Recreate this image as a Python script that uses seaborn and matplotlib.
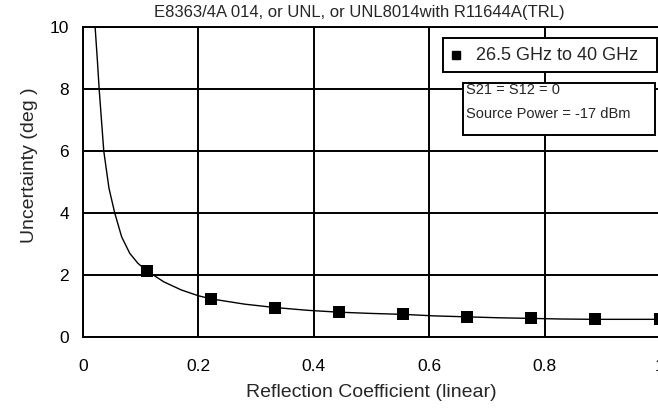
import matplotlib
matplotlib.use('Agg')
import matplotlib.pyplot as plt
import seaborn as sns
import pandas as pd
from matplotlib.patches import Rectangle
from matplotlib.lines import Line2D

# curve
curve_x = [0.021, 0.025, 0.028, 0.032, 0.036, 0.045, 0.055, 0.067, 0.081, 0.095, 0.111,
           0.14, 0.17, 0.2, 0.222, 0.28, 0.333, 0.39, 0.444, 0.5, 0.555, 0.61, 0.666,
           0.72, 0.777, 0.83, 0.888, 0.95, 1.0]
curve_y = [10.0, 8.9, 8.0, 7.0, 6.0, 4.8, 4.0, 3.23, 2.7, 2.38, 2.13,
           1.78, 1.52, 1.33, 1.23, 1.06, 0.95, 0.86, 0.8, 0.76, 0.73, 0.68, 0.65,
           0.62, 0.6, 0.58, 0.57, 0.57, 0.57]

# square markers, 26.5 GHz to 40 GHz
marker_x = [0.111, 0.222, 0.333, 0.444, 0.555, 0.666, 0.777, 0.888, 1.0]
marker_y = [2.13, 1.23, 0.95, 0.80, 0.73, 0.65, 0.60, 0.57, 0.57]

x_ticks = [0, 0.2, 0.4, 0.6, 0.8, 1]
x_ticklabels = ['0', '0.2', '0.4', '0.6', '0.8', '1']
y_ticks = [0, 2, 4, 6, 8, 10]

title = 'E8363/4A 014, or UNL, or UNL8014with R11644A(TRL)'
legend_label = '26.5 GHz to 40 GHz'
note_lines = ['S21 = S12 = 0', 'Source Power = -17 dBm']

curve_df = pd.DataFrame({'x': curve_x, 'y': curve_y})
marker_df = pd.DataFrame({'x': marker_x, 'y': marker_y})

sns.set_style('white')
plt.rcParams['font.family'] = ['Liberation Sans', 'DejaVu Sans']

W, H = 658, 409
fig = plt.figure(figsize=(W / 100, H / 100), dpi=100)
ax = fig.add_axes([83 / W, 72 / H, 577 / W, 310 / H])

sns.lineplot(data=curve_df, x='x', y='y', ax=ax, color='black', linewidth=1.0,
             sort=False, zorder=3)
sns.scatterplot(data=marker_df, x='x', y='y', ax=ax, marker='s', color='black',
                s=75, edgecolor='black', linewidth=0, zorder=4)

ax.set_xlim(0, 1)
ax.set_ylim(0, 10)
ax.set_xticks(x_ticks)
ax.set_xticklabels(x_ticklabels)
ax.set_yticks(y_ticks)
ax.grid(True, color='black', linewidth=1.4)
for s in ax.spines.values():
    s.set_color('black')
    s.set_linewidth(1.4)
ax.tick_params(axis='x', length=0, pad=16, labelsize=12.5, colors='black')
ax.tick_params(axis='y', length=0, pad=10, labelsize=12.5, colors='black')
ax.set_xlabel('Reflection Coefficient (linear)', fontsize=14, labelpad=7)
ax.set_ylabel('Uncertainty (deg )', fontsize=14)
ax.yaxis.set_label_coords(-0.078, 0.555)

fig.text(359 / W, 1 - 12.5 / H, title, ha='center', va='center', fontsize=12)

# legend box
fig.add_artist(Rectangle((443 / W, 1 - 72 / H), 214 / W, 34 / H, transform=fig.transFigure,
                         facecolor='white', edgecolor='black', linewidth=1.4, zorder=5))
fig.add_artist(Line2D([456 / W], [1 - 55 / H], marker='s', color='black', markersize=6,
                      linestyle='none', transform=fig.transFigure, zorder=6))
fig.text(476 / W, 1 - 55 / H, legend_label, ha='left', va='center', fontsize=13, zorder=6)

# conditions box
fig.add_artist(Rectangle((463 / W, 1 - 135 / H), 192 / W, 52 / H, transform=fig.transFigure,
                         facecolor='white', edgecolor='black', linewidth=1.4, zorder=5))
fig.text(466 / W, 1 - 90 / H, note_lines[0], ha='left', va='center', fontsize=10.5, zorder=6)
fig.text(466 / W, 1 - 114 / H, note_lines[1], ha='left', va='center', fontsize=10.5, zorder=6)

fig.savefig('out.png', dpi=100, facecolor='white')
